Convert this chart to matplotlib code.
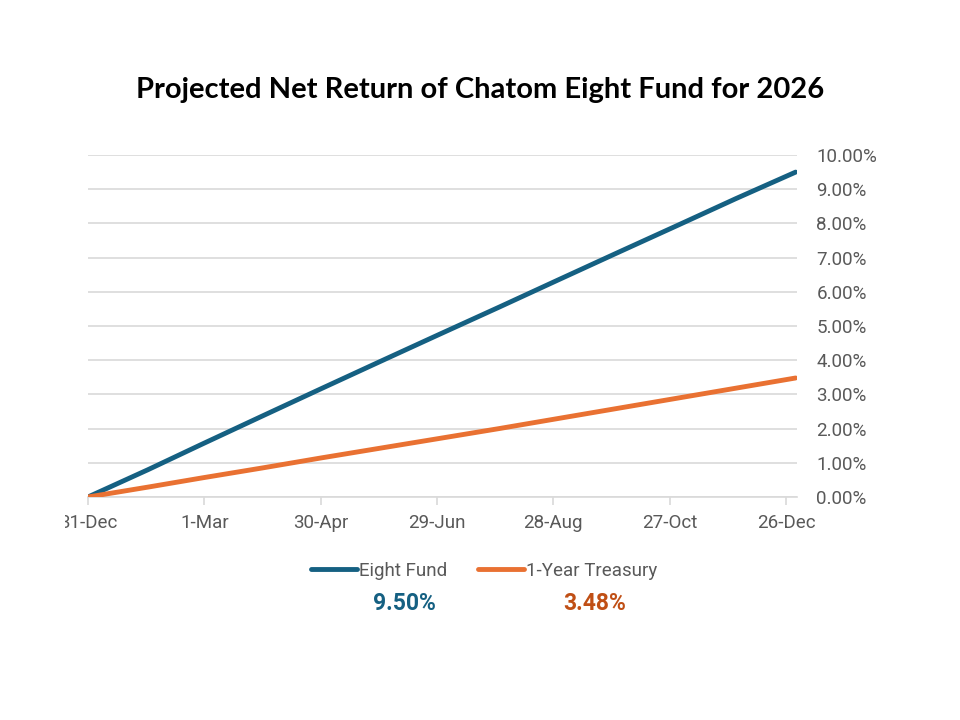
import datetime as dt
import matplotlib
matplotlib.use("Agg")
import matplotlib.pyplot as plt
import matplotlib.dates as mdates
from matplotlib.ticker import FuncFormatter, MultipleLocator
from matplotlib.transforms import Bbox

# month-end points, 31-Dec-2025 .. 31-Dec-2026 (values in %)
dates = ["2025-12-31", "2026-01-31", "2026-02-28", "2026-03-31", "2026-04-30",
         "2026-05-31", "2026-06-30", "2026-07-31", "2026-08-31", "2026-09-30",
         "2026-10-31", "2026-11-30", "2026-12-31"]
eight_fund = [0.00, 0.80, 1.55, 2.37, 3.16, 3.97, 4.75, 5.55, 6.36, 7.14, 7.94, 8.72, 9.50]
treasury = [0.00, 0.29, 0.56, 0.85, 1.14, 1.43, 1.71, 2.00, 2.30, 2.59, 2.89, 3.18, 3.48]
tick_dates = ["2025-12-31", "2026-03-01", "2026-04-30", "2026-06-29",
              "2026-08-28", "2026-10-27", "2026-12-26"]
final_labels = ["9.50%", "3.48%"]

blue = "#156082"
orange = "#E97132"
grey = "#595959"

x = [dt.datetime.strptime(d, "%Y-%m-%d") for d in dates]
xt = [dt.datetime.strptime(d, "%Y-%m-%d") for d in tick_dates]

plt.rcParams['font.family'] = ['Roboto', 'DejaVu Sans']

fig = plt.figure(figsize=(9.6, 7.2), dpi=100)
ax = fig.add_axes([88 / 960, 1 - 497 / 720, (797 - 88) / 960, (497 - 155) / 720])

ax.plot(x, eight_fund, color=blue, lw=3.5, solid_capstyle='round', label='Eight Fund', zorder=3)
ax.plot(x, treasury, color=orange, lw=3.5, solid_capstyle='round', label='1-Year Treasury', zorder=3)

ax.set_xlim(x[0], x[-1] + dt.timedelta(days=0.7))
ax.set_ylim(0, 10)
ax.yaxis.set_major_locator(MultipleLocator(1))
ax.yaxis.set_major_formatter(FuncFormatter(lambda v, p: f"{v:.2f}%"))
ax.yaxis.tick_right()
ax.grid(axis='y', color='#D9D9D9', lw=1.2, zorder=0)
ax.set_axisbelow(True)

ax.set_xticks(xt)
ax.xaxis.set_major_formatter(mdates.DateFormatter('%-d-%b'))
for s in ['top', 'left', 'right']:
    ax.spines[s].set_visible(False)
ax.spines['bottom'].set_color('#D9D9D9')
ax.spines['bottom'].set_linewidth(1.2)
ax.tick_params(axis='x', colors='#D9D9D9', length=6, width=1.2, labelcolor=grey, labelsize=13.5, pad=6)
ax.tick_params(axis='y', length=0, labelcolor=grey, labelsize=13.5, pad=14)

# the first date label is cut by the chart area's left edge
fig.canvas.draw()
first = ax.get_xticklabels()[0]
first.set_clip_box(Bbox.from_extents(65, 0, 960, 720))
first.set_clip_on(True)

fig.text(0.5, 1 - 90 / 720, "Projected Net Return of Chatom Eight Fund for 2026",
         ha='center', va='center', fontsize=21, fontweight='bold', family=['Lato', 'DejaVu Sans'])

leg = fig.legend(loc='center', bbox_to_anchor=(484 / 960, 1 - 571 / 720), ncol=2, frameon=False,
                 fontsize=13.5, handlelength=2.5, handletextpad=0.1, columnspacing=1.6)
for t in leg.get_texts():
    t.set_color(grey)

fig.text(404 / 960, 1 - 604 / 720, final_labels[0], ha='center', va='center',
         fontsize=16.5, fontweight='bold', color=blue)
fig.text(595 / 960, 1 - 604 / 720, final_labels[1], ha='center', va='center',
         fontsize=16.5, fontweight='bold', color="#C04F15")

fig.savefig("out.png", dpi=100)
